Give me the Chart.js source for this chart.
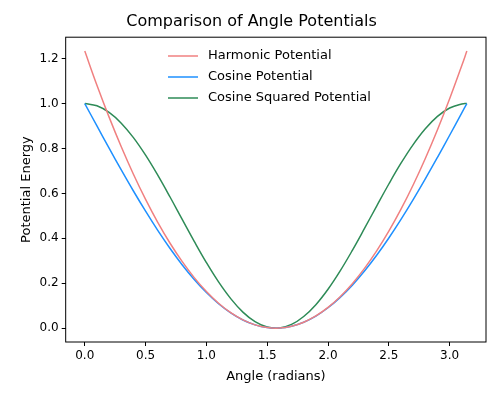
<!DOCTYPE html>
<html>
<head>
<script src="https://cdn.jsdelivr.net/npm/chart.js@4/dist/chart.umd.min.js"></script>
<style>body{margin:0;background:#fff}#wrap{width:500px;height:400px}</style>
</head>
<body>
<div id="wrap"><canvas id="c"></canvas></div>
<script>
// angle samples (radians)
const angles = [0,0.1,0.2,0.3,0.4,0.5,0.6,0.7,0.8,0.9,1.0,1.1,1.2,1.3,1.4,1.5,1.6,1.7,1.8,1.9,2.0,2.1,2.2,2.3,2.4,2.5,2.6,2.7,2.8,2.9,3.0,3.1,3.1416];
const harmonic = [1.2337,1.0816,0.9395,0.8075,0.6854,0.5733,0.4712,0.3791,0.2971,0.2250,0.1629,0.1108,0.0687,0.0367,0.0146,0.0025,0.0004,0.0083,0.0263,0.0542,0.0921,0.1400,0.1979,0.2659,0.3438,0.4317,0.5296,0.6375,0.7554,0.8834,1.0213,1.1692,1.2337];
const cosine = [1,0.9002,0.8013,0.7045,0.6106,0.5206,0.4354,0.3558,0.2826,0.2167,0.1585,0.1088,0.0680,0.0364,0.0146,0.0025,0.0004,0.0083,0.0262,0.0537,0.0907,0.1368,0.1915,0.2543,0.3245,0.4015,0.4845,0.5726,0.6650,0.7608,0.8589,0.9584,1];
const cosSquared = [1,0.9900,0.9605,0.9127,0.8484,0.7702,0.6812,0.5850,0.4853,0.3864,0.2919,0.2058,0.1314,0.0715,0.0290,0.0050,0.0008,0.0165,0.0517,0.1045,0.1732,0.2549,0.3463,0.4439,0.5437,0.6418,0.7343,0.8173,0.8878,0.9428,0.9801,0.9983,1];
const xTicks = [0,0.5,1.0,1.5,2.0,2.5,3.0];
const yTicks = [0,0.2,0.4,0.6,0.8,1.0,1.2];

const names = ['Harmonic Potential','Cosine Potential','Cosine Squared Potential'];
const colors = ['#F08080','#1E90FF','#2E8B57'];
const series = [harmonic, cosine, cosSquared];

const font = 'DejaVu Sans';
Chart.defaults.font.family = font;
Chart.defaults.color = '#000';

const frame = {
  id: 'frame',
  afterDraw(chart) {
    const {ctx, chartArea: a} = chart;
    ctx.save();
    ctx.strokeStyle = '#000'; ctx.lineWidth = 1;
    ctx.strokeRect(a.left, a.top, a.right - a.left, a.bottom - a.top);
    ctx.font = '13px ' + font;
    ctx.textBaseline = 'middle';
    names.forEach((n, i) => {
      const y = 56 + i * 21;
      ctx.strokeStyle = colors[i]; ctx.lineWidth = 1.5;
      ctx.beginPath(); ctx.moveTo(168, y); ctx.lineTo(198, y); ctx.stroke();
      ctx.fillStyle = '#000'; ctx.fillText(n, 208, y);
    });
    ctx.restore();
  }
};

const axis = (ticks, min, max, title) => ({
  type: 'linear', min, max,
  afterBuildTicks: s => { s.ticks = ticks.map(v => ({value: v})); },
  ticks: {font: {size: 12}, callback: v => v.toFixed(1), padding: 3},
  grid: {display: true, drawOnChartArea: false, tickLength: 4, color: '#000'},
  border: {display: false},
  title: {display: true, text: title, font: {size: 13}, padding: 2}
});

new Chart(document.getElementById('c'), {
  type: 'line',
  data: {
    datasets: series.map((d, i) => ({
      label: names[i],
      data: angles.map((x, j) => ({x, y: d[j]})),
      borderColor: colors[i], borderWidth: 1.5,
      pointRadius: 0, tension: 0.4, fill: false
    }))
  },
  options: {
    responsive: true, maintainAspectRatio: false, animation: false,
    layout: {padding: {left: 17, right: 14, top: 4, bottom: 14}},
    plugins: {
      legend: {display: false},
      tooltip: {enabled: false},
      title: {display: true, text: 'Comparison of Angle Potentials', font: {size: 16, weight: 'normal'}, padding: {top: 8, bottom: 6}}
    },
    scales: {
      x: axis(xTicks, -0.157, 3.299, 'Angle (radians)'),
      y: axis(yTicks, -0.0617, 1.2954, 'Potential Energy')
    }
  },
  plugins: [frame]
});
</script>
</body>
</html>
